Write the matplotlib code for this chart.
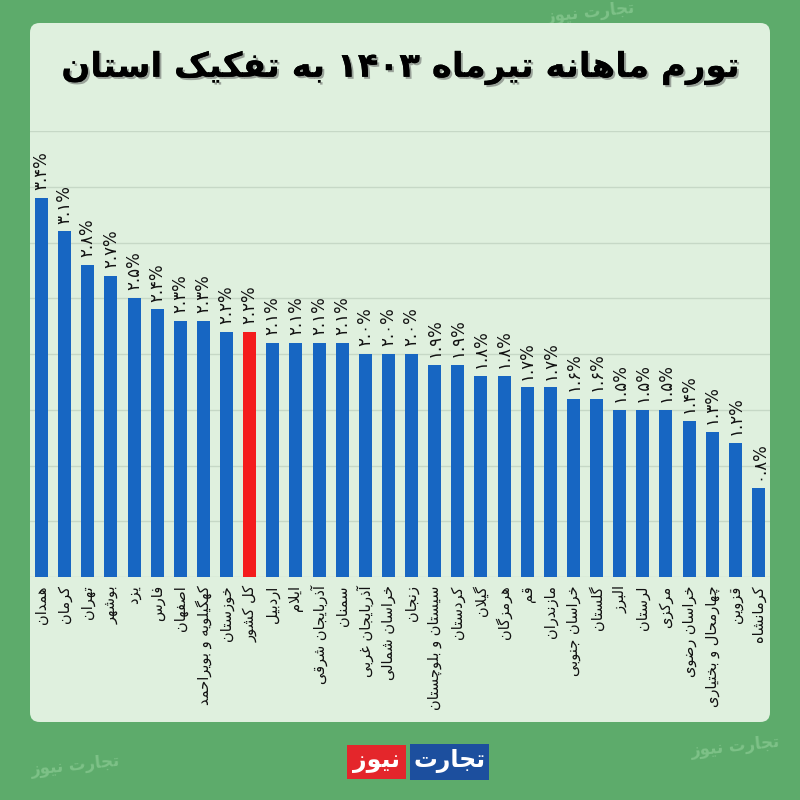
import re
import matplotlib
matplotlib.use('Agg')
import matplotlib.pyplot as plt
from matplotlib.patches import FancyBboxPatch, Rectangle
import matplotlib.patheffects as pe

# ---------------- data ----------------
provinces = [
    'همدان', 'کرمان', 'تهران', 'بوشهر', 'یزد', 'فارس', 'اصفهان',
    'کهگیلویه و بویراحمد', 'خوزستان', 'کل کشور', 'اردبیل', 'ایلام',
    'آذربایجان شرقی', 'سمنان', 'آذربایجان غربی', 'خراسان شمالی', 'زنجان',
    'سیستان و بلوچستان', 'کردستان', 'گیلان', 'هرمزگان', 'قم', 'مازندران',
    'خراسان جنوبی', 'گلستان', 'البرز', 'لرستان', 'مرکزی', 'خراسان رضوی',
    'چهارمحال و بختیاری', 'قزوین', 'کرمانشاه',
]
inflation = [3.4, 3.1, 2.8, 2.7, 2.5, 2.4, 2.3, 2.3, 2.2, 2.2, 2.1, 2.1,
             2.1, 2.1, 2.0, 2.0, 2.0, 1.9, 1.9, 1.8, 1.8, 1.7, 1.7, 1.6,
             1.6, 1.5, 1.5, 1.5, 1.4, 1.3, 1.2, 0.8]
highlight = 'کل کشور'
title_text = 'تورم ماهانه تیرماه ۱۴۰۳ به تفکیک استان'
logo_blue_text = 'تجارت'
logo_red_text = 'نیوز'
watermark_text = 'تجارت نیوز'

# ---------------- minimal Arabic/Persian shaping ----------------
FORMS = {
    'ا': (0xFE8D, 0xFE8E), 'آ': (0xFE81, 0xFE82),
    'د': (0xFEA9, 0xFEAA), 'ذ': (0xFEAB, 0xFEAC),
    'ر': (0xFEAD, 0xFEAE), 'ز': (0xFEAF, 0xFEB0),
    'ژ': (0xFB8A, 0xFB8B), 'و': (0xFEED, 0xFEEE),
    'ب': (0xFE8F, 0xFE90, 0xFE91, 0xFE92), 'پ': (0xFB56, 0xFB57, 0xFB58, 0xFB59),
    'ت': (0xFE95, 0xFE96, 0xFE97, 0xFE98), 'ث': (0xFE99, 0xFE9A, 0xFE9B, 0xFE9C),
    'ج': (0xFE9D, 0xFE9E, 0xFE9F, 0xFEA0), 'چ': (0xFB7A, 0xFB7B, 0xFB7C, 0xFB7D),
    'ح': (0xFEA1, 0xFEA2, 0xFEA3, 0xFEA4), 'خ': (0xFEA5, 0xFEA6, 0xFEA7, 0xFEA8),
    'س': (0xFEB1, 0xFEB2, 0xFEB3, 0xFEB4), 'ش': (0xFEB5, 0xFEB6, 0xFEB7, 0xFEB8),
    'ص': (0xFEB9, 0xFEBA, 0xFEBB, 0xFEBC), 'ض': (0xFEBD, 0xFEBE, 0xFEBF, 0xFEC0),
    'ط': (0xFEC1, 0xFEC2, 0xFEC3, 0xFEC4), 'ظ': (0xFEC5, 0xFEC6, 0xFEC7, 0xFEC8),
    'ع': (0xFEC9, 0xFECA, 0xFECB, 0xFECC), 'غ': (0xFECD, 0xFECE, 0xFECF, 0xFED0),
    'ف': (0xFED1, 0xFED2, 0xFED3, 0xFED4), 'ق': (0xFED5, 0xFED6, 0xFED7, 0xFED8),
    'ک': (0xFB8E, 0xFB8F, 0xFB90, 0xFB91), 'گ': (0xFB92, 0xFB93, 0xFB94, 0xFB95),
    'ل': (0xFEDD, 0xFEDE, 0xFEDF, 0xFEE0), 'م': (0xFEE1, 0xFEE2, 0xFEE3, 0xFEE4),
    'ن': (0xFEE5, 0xFEE6, 0xFEE7, 0xFEE8), 'ه': (0xFEE9, 0xFEEA, 0xFEEB, 0xFEEC),
    'ی': (0xFBFC, 0xFBFD, 0xFBFE, 0xFBFF),
}
LAM_ALEF = {'ا': (0xFEFB, 0xFEFC), 'آ': (0xFEF5, 0xFEF6)}


def _dual(c):
    return c in FORMS and len(FORMS[c]) == 4


def shape(s):
    out = []
    n = len(s)
    i = 0
    while i < n:
        c = s[i]
        prev_joins = i > 0 and _dual(s[i - 1])
        if c == 'ل' and i + 1 < n and s[i + 1] in LAM_ALEF:
            lig = LAM_ALEF[s[i + 1]]
            out.append(chr(lig[1] if prev_joins else lig[0]))
            i += 2
            continue
        if c in FORMS:
            f = FORMS[c]
            next_joins = _dual(c) and i + 1 < n and s[i + 1] in FORMS
            if prev_joins and next_joins:
                out.append(chr(f[3]))
            elif prev_joins:
                out.append(chr(f[1]))
            elif next_joins:
                out.append(chr(f[2]))
            else:
                out.append(chr(f[0]))
        else:
            out.append(c)
        i += 1
    return ''.join(out)


def rtl(s):
    sh = shape(s)
    runs = re.findall(r'[0-9۰-۹.%]+|[^0-9۰-۹.%]+', sh)
    runs = [r if re.match(r'[0-9۰-۹]', r) else r[::-1] for r in runs]
    return ''.join(runs[::-1])


def fa_digits(s):
    return s.translate(str.maketrans('0123456789', '۰۱۲۳۴۵۶۷۸۹'))


# ---------------- figure ----------------
plt.rcParams['font.family'] = ['DejaVu Sans']
W = H = 800
fig = plt.figure(figsize=(8, 8), dpi=100)
fig.patch.set_facecolor('#5dab6b')


def fx(px):
    return px / W


def fy(py):
    return 1 - py / H


# watermarks on the green background
for (x, y, rot) in [(590, 12, 6), (75, 765, 6), (735, 746, 6)]:
    fig.text(fx(x), fy(y), rtl(watermark_text), color='#86c78f', fontsize=12,
             fontweight='bold', ha='center', va='center', rotation=rot,
             alpha=0.8, zorder=-3)

# panel
panel = FancyBboxPatch((fx(30), fy(722)), fx(740), (722 - 23) / H,
                       boxstyle='round,pad=0,rounding_size=0.012',
                       transform=fig.transFigure, facecolor='#dff0de',
                       edgecolor='none', zorder=-2)
fig.patches.append(panel)

# title
fig.text(0.5, fy(68), rtl(title_text), fontsize=24.5, fontweight='bold',
         color='black', ha='center', va='center',
         path_effects=[pe.withSimplePatchShadow(offset=(1.5, -1.5),
                                                shadow_rgbFace='#555555', alpha=0.5),
                       pe.Normal()])

# axes
ax = fig.add_axes([fx(30), fy(577), fx(740), (577 - 131) / H])
ax.set_facecolor('none')
x = list(range(len(provinces)))
colors = ['#f41c1c' if p == highlight else '#1766c2' for p in provinces]
ax.bar(x, inflation, width=0.56, color=colors, zorder=3)
ax.set_xlim(-0.5, len(provinces) - 0.5)
ax.set_ylim(0, 4.0)
ax.set_yticks([i * 0.5 for i in range(9)])
ax.set_yticklabels([])
ax.yaxis.grid(True, color='#c6d8c6', linewidth=1.0, zorder=0)
ax.set_axisbelow(True)
ax.tick_params(axis='both', length=0)
for sp in ax.spines.values():
    sp.set_visible(False)
ax.set_xticks(x)
ax.set_xticklabels([rtl(p) for p in provinces], rotation=90, fontsize=10.5,
                   color='#111111')
ax.tick_params(axis='x', pad=6)

for xi, v in zip(x, inflation):
    ax.text(xi, v + 0.07, fa_digits(f'{v:.1f}') + '%', rotation=90,
            ha='center', va='bottom', fontsize=12, color='#111111', zorder=4)

# logo
fig.patches.append(Rectangle((fx(410), fy(780)), fx(79), 36 / H,
                             transform=fig.transFigure, facecolor='#1c4f9e',
                             edgecolor='none'))
fig.patches.append(Rectangle((fx(347), fy(779)), fx(59), 34 / H,
                             transform=fig.transFigure, facecolor='#e4262b',
                             edgecolor='none'))
fig.text(fx(449.5), fy(761), rtl(logo_blue_text), color='white', fontsize=17,
         fontweight='bold', ha='center', va='center')
fig.text(fx(376.5), fy(761), rtl(logo_red_text), color='white', fontsize=17,
         fontweight='bold', ha='center', va='center')

fig.savefig('out.png', dpi=100, facecolor=fig.get_facecolor())
